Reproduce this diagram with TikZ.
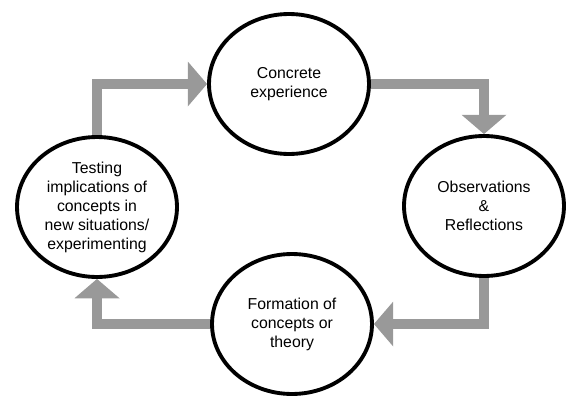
\documentclass[tikz,border=0pt]{standalone}
\usepackage{fontspec}
\setmainfont{Liberation Sans}
\usepackage{xcolor}
\usetikzlibrary{shapes.geometric,arrows.meta,positioning}
\definecolor{arrowgray}{RGB}{153,153,153}
\tikzset{
    stage/.style={draw, ellipse, line width=2.2pt, minimum width=3.2cm, minimum height=2.8cm,
        inner sep=0pt, align=center, font=\fontsize{9}{10.8}\selectfont},
    flow/.style={arrowgray, line width=5.5pt, line join=miter,
        -{Triangle[length=11pt,width=25pt]}}
}

\begin{document}
\begin{tikzpicture}[x=0.02cm, y=-0.02cm]
    \useasboundingbox (0,0) rectangle (568,396);

    % Stages of the cycle
    \node[stage] (conc) at (289, 84) {Concrete\\experience};
    \node[stage] (obs) at (484, 206) {Observations\\\&\\Reflections};
    \node[stage] (form) at (292, 324) {Formation of\\concepts or\\theory};
    \node[stage] (test) at (97, 207) {Testing\\implications of\\concepts in\\new situations/\\experimenting};

    % Arrows between stages
    \draw[flow] (conc.east) -| (obs.north);
    \draw[flow] (obs.south) |- (form.east);
    \draw[flow] (form.west) -| (test.south);
    \draw[flow] (test.north) |- (conc.west);
\end{tikzpicture}
\end{document}
